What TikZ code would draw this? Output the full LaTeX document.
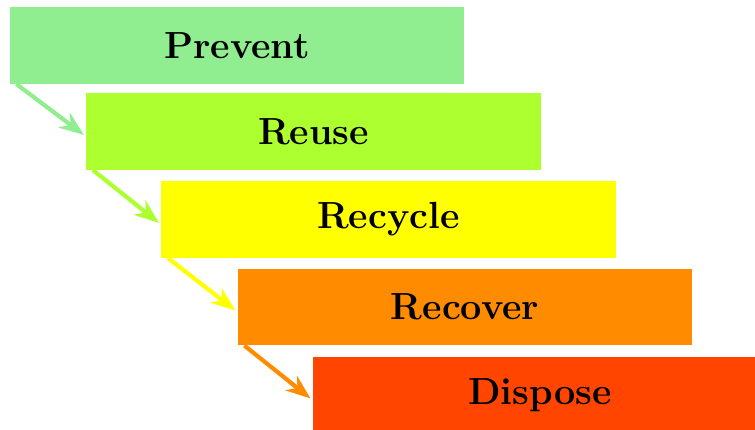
\documentclass[tikz,border=0pt]{standalone}
\usepackage{xcolor}
\usepackage{tikz}
\usetikzlibrary{arrows.meta,positioning,calc}

\definecolor{lightgreen}{RGB}{144,238,144}
\definecolor{greenyellow}{RGB}{173,255,47}
\definecolor{pureyellow}{RGB}{255,255,0}
\definecolor{darkorange}{RGB}{255,140,0}
\definecolor{orangered}{RGB}{255,69,0}

\begin{document}
\begin{tikzpicture}[x=0.405pt, y=-0.405pt,
    stage/.style={rectangle, minimum width=183.9pt, minimum height=30.8pt, inner sep=0pt, font=\fontsize{15.3}{18}\selectfont\bfseries},
    flow/.style={-{Stealth[length=10pt, width=7.5pt]}, line width=1.7pt}]
        \clip (0,0) rectangle (755,429);
        \useasboundingbox (0,0) rectangle (755,429);

        % Stages
        \node[stage, fill=lightgreen] (prevent) at (237,45.5) {Prevent};
        \node[stage, fill=greenyellow] (reuse) at (313.5,131.5) {Reuse};
        \node[stage, fill=pureyellow] (recycle) at (388.5,219.5) {Recycle};
        \node[stage, fill=darkorange] (recover) at (465,307) {Recover};
        \node[stage, fill=orangered] (dispose) at (540,395) {Dispose};

        % Arrows
        \draw[flow, lightgreen] ([xshift=2.8pt]prevent.south west) -- ([xshift=-0.8pt,yshift=-1.4pt]reuse.west);
        \draw[flow, greenyellow] ([xshift=2.8pt]reuse.south west) -- ([xshift=-0.8pt,yshift=-1.4pt]recycle.west);
        \draw[flow, pureyellow] ([xshift=2.8pt]recycle.south west) -- ([xshift=-0.8pt,yshift=-1.4pt]recover.west);
        \draw[flow, darkorange] ([xshift=2.8pt]recover.south west) -- ([xshift=-0.8pt,yshift=-1.4pt]dispose.west);
    \end{tikzpicture}
\end{document}
